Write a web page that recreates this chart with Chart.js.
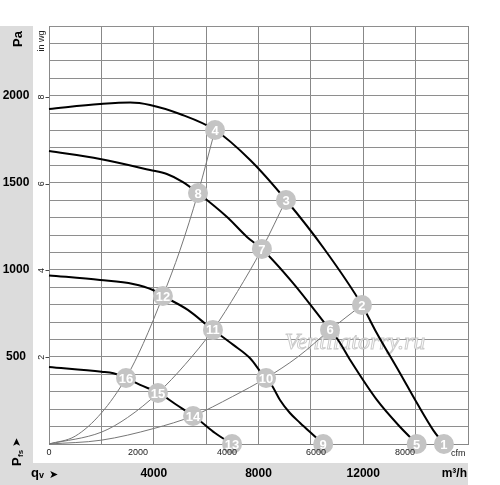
<!DOCTYPE html>
<html><head><meta charset="utf-8">
<script src="https://cdn.jsdelivr.net/npm/chart.js@4/dist/chart.umd.min.js"></script>
<style>html,body{margin:0;padding:0;background:#fff}canvas{display:block}</style>
</head><body>
<canvas id="c" width="500" height="485"></canvas>
<script>
// ---- tick labels ----
const m3hTicks = [4000, 8000, 12000];
const paTicks = [500, 1000, 1500, 2000];
const inwgTicks = [2, 4, 6, 8];
const cfmTicks = [0, 2000, 4000, 6000, 8000];

// ---- fan curves (q in m3/h, p in Pa) ----
const fanA_q = [0, 1950, 3100, 3860, 5000, 6340, 7680, 9050, 10540, 11950, 12450, 13400, 14050, 14670, 15080];
const fanA_p = [1924, 1952, 1961, 1947, 1895, 1803, 1631, 1401, 1114, 798, 655, 408, 235, 80, 0];
const fanB_q = [0, 1950, 3860, 4500, 5100, 5690, 6800, 7560, 8130, 9320, 10730, 11040, 11500, 12520, 13400, 14050];
const fanB_p = [1682, 1636, 1573, 1550, 1505, 1441, 1303, 1189, 1120, 924, 655, 597, 482, 253, 99, 0];
const fanC_q = [0, 1950, 3210, 3970, 4350, 5300, 6260, 6530, 7040, 7680, 8120, 8500, 8820, 9200, 9590, 10220, 10460];
const fanC_p = [968, 942, 919, 884, 850, 770, 655, 626, 569, 492, 406, 339, 253, 178, 121, 34, 0];
const fanD_q = [0, 2010, 2460, 2970, 3480, 4170, 4880, 5510, 5770, 6340, 6990];
const fanD_p = [442, 415, 406, 377, 339, 295, 224, 161, 132, 63, 0];

// ---- system curves ----
const sys1_q = [0, 1000, 2000, 2940, 3600, 4350, 5000, 5690, 6340];
const sys1_p = [0, 45, 178, 379, 577, 850, 1112, 1441, 1803];
const sys2_q = [0, 2000, 3000, 4160, 5200, 6260, 7200, 8130, 9050];
const sys2_p = [0, 68, 152, 293, 457, 655, 876, 1120, 1401];
const sys3_q = [0, 2000, 4000, 5500, 7000, 8290, 9500, 10730, 11950];
const sys3_p = [0, 22, 89, 161, 272, 379, 500, 655, 798];

// ---- numbered operating points ----
const markerLabels = ['1','2','3','4','5','6','7','8','9','10','11','12','13','14','15','16'];
const marker_q = [15080, 11950, 9050, 6340, 14040, 10730, 8130, 5690, 10470, 8290, 6260, 4350, 6990, 5500, 4160, 2940];
const marker_p = [0, 798, 1401, 1803, 0, 655, 1120, 1441, 0, 379, 655, 850, 0, 161, 293, 379];

const PA_PER_INWG = 249.089;
const M3H_PER_CFM = 1.69901;

const pts = (q, p) => q.map((v, i) => ({x: v, y: p[i]}));
const FONT = '"Liberation Sans", Arial, sans-serif';

function fanDs(q, p) {
  return {data: pts(q, p), showLine: true, borderColor: '#000', borderWidth: 2, pointRadius: 0,
    cubicInterpolationMode: 'monotone', order: 1, clip: false};
}
function sysDs(q, p) {
  return {data: pts(q, p), showLine: true, borderColor: '#777', borderWidth: 1, pointRadius: 0,
    cubicInterpolationMode: 'monotone', order: 2, clip: false};
}

const decor = {
  id: 'decor',
  beforeDraw(chart) {
    const ctx = chart.ctx;
    ctx.save();
    ctx.fillStyle = '#fff';
    ctx.fillRect(0, 0, chart.width, chart.height);
    ctx.fillStyle = '#dcdcdc';
    ctx.fillRect(0, 26, 33, 459);
    ctx.fillRect(0, 463, 468, 22);
    ctx.restore();
  },
  beforeDatasetsDraw(chart) {
    const ctx = chart.ctx;
    ctx.save();
    ctx.font = 'italic 24px "Liberation Serif", serif';
    ctx.textAlign = 'center';
    ctx.textBaseline = 'middle';
    ctx.lineWidth = 1;
    ctx.strokeStyle = 'rgba(185,185,185,0.75)';
    ctx.fillStyle = 'rgba(255,255,255,0.9)';
    ctx.fillText('Ventilatorry.ru', 355, 343);
    ctx.strokeText('Ventilatorry.ru', 355, 343);
    ctx.restore();
  },
  afterDatasetsDraw(chart) {
    const ctx = chart.ctx;
    const meta = chart.getDatasetMeta(0);
    ctx.save();
    ctx.fillStyle = '#fff';
    ctx.font = 'bold 13px ' + FONT;
    ctx.textAlign = 'center';
    ctx.textBaseline = 'middle';
    meta.data.forEach((el, i) => {
      ctx.fillText(markerLabels[i], el.x, el.y + 1);
    });
    ctx.restore();
  },
  afterDraw(chart) {
    const ctx = chart.ctx;
    const xs = chart.scales.x, ys = chart.scales.y;
    ctx.save();
    ctx.fillStyle = '#000';
    // Pa labels
    ctx.font = 'bold 12px ' + FONT;
    ctx.textAlign = 'center';
    ctx.textBaseline = 'middle';
    paTicks.forEach(v => ctx.fillText(String(v), 16, ys.getPixelForValue(v)));
    // m3/h labels
    m3hTicks.forEach(v => ctx.fillText(String(v), xs.getPixelForValue(v), 474));
    ctx.textAlign = 'right';
    ctx.fillText('m³/h', 467, 474);
    // qv arrow
    ctx.textAlign = 'left';
    ctx.textBaseline = 'alphabetic';
    ctx.font = 'bold 13px ' + FONT;
    ctx.fillText('q', 31, 477);
    ctx.font = 'bold 9px ' + FONT;
    ctx.fillText('v', 39, 478);
    ctx.font = '11px "DejaVu Sans", sans-serif';
    ctx.fillText('➤', 49, 478);
    // Pa rotated
    ctx.save();
    ctx.translate(22, 39);
    ctx.rotate(-Math.PI / 2);
    ctx.font = 'bold 13px ' + FONT;
    ctx.textAlign = 'center';
    ctx.textBaseline = 'alphabetic';
    ctx.fillText('Pa', 0, 0);
    ctx.restore();
    // Pfs rotated
    ctx.save();
    ctx.translate(21, 466);
    ctx.rotate(-Math.PI / 2);
    ctx.textAlign = 'left';
    ctx.textBaseline = 'alphabetic';
    ctx.font = 'bold 13px ' + FONT;
    ctx.fillText('P', 0, 0);
    ctx.font = 'bold 8px ' + FONT;
    ctx.fillText('fs', 9, 2);
    ctx.font = '11px "DejaVu Sans", sans-serif';
    ctx.fillText('➤', 19, -1);
    ctx.restore();
    // in wg
    ctx.fillStyle = '#222';
    ctx.strokeStyle = '#444';
    ctx.lineWidth = 1;
    ctx.save();
    ctx.translate(44, 41);
    ctx.rotate(-Math.PI / 2);
    ctx.font = '9px ' + FONT;
    ctx.textAlign = 'center';
    ctx.fillText('in wg', 0, 0);
    ctx.restore();
    inwgTicks.forEach(v => {
      const y = ys.getPixelForValue(v * PA_PER_INWG);
      ctx.beginPath();
      ctx.moveTo(45.5, Math.round(y) + 0.5);
      ctx.lineTo(49, Math.round(y) + 0.5);
      ctx.stroke();
      ctx.save();
      ctx.translate(44, y);
      ctx.rotate(-Math.PI / 2);
      ctx.font = '9px ' + FONT;
      ctx.textAlign = 'center';
      ctx.fillText(String(v), 0, 0);
      ctx.restore();
    });
    // cfm
    ctx.font = '9px ' + FONT;
    ctx.textAlign = 'center';
    ctx.textBaseline = 'middle';
    cfmTicks.forEach(v => ctx.fillText(String(v), xs.getPixelForValue(v * M3H_PER_CFM), 453));
    ctx.textAlign = 'left';
    ctx.fillText('cfm', 451, 454);
    ctx.restore();
  }
};

new Chart(document.getElementById('c'), {
  type: 'scatter',
  data: {
    datasets: [
      {data: pts(marker_q, marker_p), pointRadius: 10, pointHoverRadius: 10, backgroundColor: '#c4c4c4',
        borderColor: '#c4c4c4', borderWidth: 0, showLine: false, order: 0, clip: false},
      fanDs(fanA_q, fanA_p), fanDs(fanB_q, fanB_p), fanDs(fanC_q, fanC_p), fanDs(fanD_q, fanD_p),
      sysDs(sys1_q, sys1_p), sysDs(sys2_q, sys2_p), sysDs(sys3_q, sys3_p)
    ]
  },
  options: {
    responsive: false, devicePixelRatio: 1, animation: false,
    layout: {padding: {left: 49, top: 26, right: 32, bottom: 41}},
    plugins: {legend: {display: false}, tooltip: {enabled: false}},
    events: [],
    scales: {
      x: {type: 'linear', min: 0, max: 16000,
        ticks: {display: false, stepSize: 2000},
        grid: {color: '#888', drawTicks: false},
        border: {display: true, color: '#888'}},
      y: {type: 'linear', min: 0, max: 2400,
        ticks: {display: false, stepSize: 100},
        grid: {color: '#8e8e8e', drawTicks: false},
        border: {display: true, color: '#888'}}
    }
  },
  plugins: [decor]
});
</script>
</body></html>
